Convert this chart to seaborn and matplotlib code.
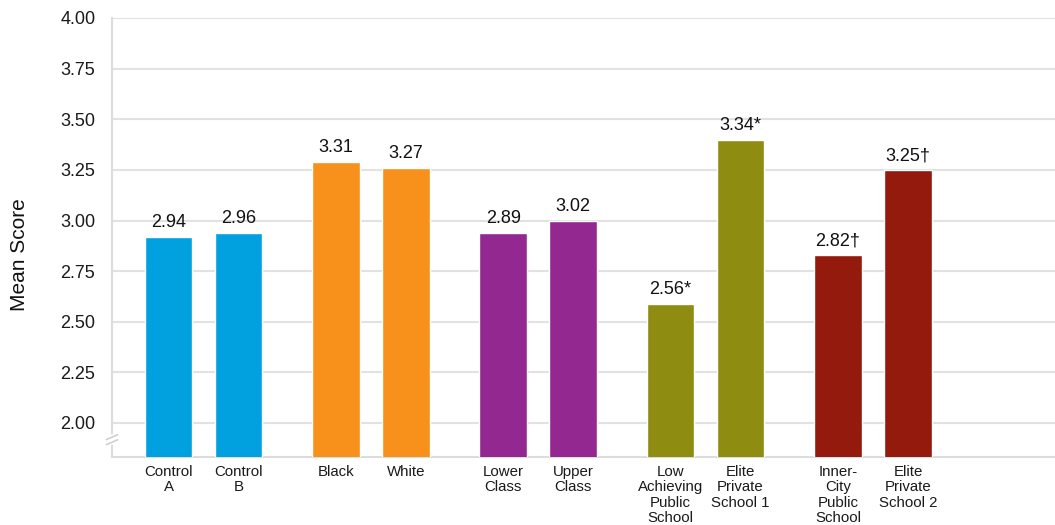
import numpy as np
import pandas as pd
import matplotlib
matplotlib.use("Agg")
import matplotlib.pyplot as plt
import seaborn as sns

# ---- data ----
categories = ["Control\nA", "Control\nB", "Black", "White", "Lower\nClass", "Upper\nClass",
              "Low\nAchieving\nPublic\nSchool", "Elite\nPrivate\nSchool 1",
              "Inner-\nCity\nPublic\nSchool", "Elite\nPrivate\nSchool 2"]
groups = ["Control", "Control", "Race", "Race", "Class", "Class",
          "School 1", "School 1", "School 2", "School 2"]
mean_scores = [2.92, 2.94, 3.29, 3.26, 2.94, 3.00, 2.59, 3.40, 2.83, 3.25]
value_labels = ["2.94", "2.96", "3.31", "3.27", "2.89", "3.02",
                "2.56*", "3.34*", "2.82\u2020", "3.25\u2020"]
group_colors = {"Control": "#00A1DE", "Race": "#F8901C", "Class": "#922890",
                "School 1": "#8F8C12", "School 2": "#931A0D"}
yticks = [2.00, 2.25, 2.50, 2.75, 3.00, 3.25, 3.50, 3.75, 4.00]

# positions: pairs with a wider gap between groups
group_order = list(dict.fromkeys(groups))
positions = []
seen = {}
for g in groups:
    gi = group_order.index(g)
    k = seen.get(g, 0)
    seen[g] = k + 1
    positions.append(gi * 2.39 + k)

df = pd.DataFrame({"pos": positions, "score": mean_scores, "group": groups})

sns.set_theme(style="white")
plt.rcParams["font.family"] = ["Liberation Sans", "DejaVu Sans"]

fig = plt.figure(figsize=(10.55, 5.25), dpi=100)
ax = fig.add_axes([112 / 1055, 1 - 457 / 525, 1 - 112 / 1055, (457 - 18) / 525])

sns.barplot(data=df, x="pos", y="score", hue="group", palette=group_colors,
            native_scale=True, dodge=False, width=0.68, legend=False,
            saturation=1, ax=ax, zorder=3)

ax.set_ylim(2.0 - 34 / 202.5, 4.0)
ax.set_xlim(-0.807, 12.66)
ax.set_yticks(yticks)
ax.set_yticklabels([f"{v:.2f}" for v in yticks], fontsize=13, color="#1a1a1a")
ax.set_xticks(positions)
ax.set_xticklabels(categories, fontsize=10.8, color="#1a1a1a", linespacing=1.1)
ax.tick_params(axis="both", length=0)
ax.tick_params(axis="y", pad=12)
ax.tick_params(axis="x", pad=6)
ax.grid(axis="y", color="#e2e2e2", linewidth=1.5, zorder=0)
ax.set_axisbelow(True)
ax.set_xlabel("")
ax.set_ylabel("Mean Score", fontsize=15, color="#111111")
ax.yaxis.set_label_coords(-0.088, 0.5 - 17 / 439)

for s in ["top", "right"]:
    ax.spines[s].set_visible(False)
for s in ["left", "bottom"]:
    ax.spines[s].set_color("#dcdcdc")
    ax.spines[s].set_linewidth(1.5)

for x, y, lab in zip(positions, mean_scores, value_labels):
    ax.annotate(lab, (x, y), xytext=(0, 4), textcoords="offset points",
                ha="center", va="bottom", fontsize=13, color="#111111")

# axis break mark
trans = ax.get_yaxis_transform()
yb1, yb2 = 1.905, 1.93
ax.plot([0, 0], [yb1, yb2], transform=trans, color="white", lw=4, clip_on=False, zorder=5)
for yy in (yb1, yb2):
    ax.plot([-0.006, 0.006], [yy - 0.012, yy + 0.012], transform=trans,
            color="#cfcfcf", lw=1.2, clip_on=False, zorder=6)

fig.savefig("out.png", dpi=100)
